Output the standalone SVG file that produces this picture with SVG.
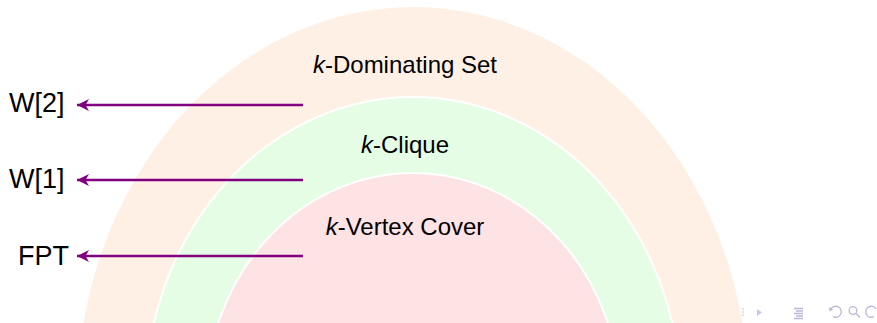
<svg xmlns="http://www.w3.org/2000/svg" width="877" height="323" viewBox="0 0 877 323">
  <style>
    .lbl { font-family: "Liberation Sans", "DejaVu Sans", sans-serif; fill: #000; }
    .cls { font-size: 27px; }
    .prob { font-size: 24px; text-anchor: middle; }
    .it { font-style: italic; }
    .band { stroke: #ffffff; stroke-width: 2; }
    .conn { stroke: #800080; stroke-width: 2.4; fill: none; marker-end: url(#head); }
    .nav { stroke: #b8b8d6; fill: none; stroke-width: 1.3; }
  </style>
  <defs>
    <marker id="head" viewBox="0 0 13 13" refX="12" refY="6.5" markerWidth="13" markerHeight="13" markerUnits="userSpaceOnUse" orient="auto">
      <path d="M0,0.5 L12,6.5 L0,12.5 L3.5,6.5 Z" fill="#800080"/>
    </marker>
  </defs>

  <!-- nested complexity bands -->
  <g id="dominating-set">
    <ellipse cx="413" cy="400" rx="336" ry="393" fill="#fef0e4"/>
    <text class="lbl prob" x="405" y="73"><tspan class="it">k</tspan>-Dominating Set</text>
  </g>
  <g id="clique">
    <ellipse class="band" cx="413" cy="400" rx="268" ry="303" fill="#e4fde4"/>
    <text class="lbl prob" x="405" y="153"><tspan class="it">k</tspan>-Clique</text>
  </g>
  <g id="vertex-cover">
    <ellipse class="band" cx="413" cy="400" rx="207" ry="227" fill="#fde3e4"/>
    <text class="lbl prob" x="405" y="235"><tspan class="it">k</tspan>-Vertex Cover</text>
  </g>

  <!-- class labels -->
  <g id="w2"><text class="lbl cls" x="9" y="112">W[2]</text></g>
  <g id="w1"><text class="lbl cls" x="9" y="188">W[1]</text></g>
  <g id="fpt"><text class="lbl cls" x="18" y="265">FPT</text></g>

  <!-- connectors -->
  <g id="connectors">
    <line class="conn" x1="303" y1="105" x2="77" y2="105"/>
    <line class="conn" x1="303" y1="180" x2="77" y2="180"/>
    <line class="conn" x1="303" y1="256" x2="77" y2="256"/>
  </g>

  <!-- navigation symbols -->
  <g id="navigation">
    <circle cx="743" cy="309" r="0.8" fill="#b8b8d6"/>
    <circle cx="743" cy="312" r="0.8" fill="#b8b8d6"/>
    <circle cx="743" cy="315" r="0.8" fill="#b8b8d6"/>
    <path d="M757,309 L762,312.5 L757,316 Z" fill="#c8c8e0"/>
    <path class="nav" d="M794,308.5 H803 M796,311 H803 M794,313.5 H803 M796,316 H803 M794,318.5 H803"/>
    <path class="nav" d="M831,309 A5.5,5.5 0 1 1 833,316.5"/>
    <path d="M829,307 L833,309.5 L829.5,311.5 Z" fill="#b8b8d6"/>
    <circle class="nav" cx="853" cy="310.5" r="3.8"/>
    <path class="nav" d="M856,313.5 L860,317.5"/>
    <path class="nav" d="M876,309 A5.5,5.5 0 1 0 874,316.5"/>
  </g>
</svg>
